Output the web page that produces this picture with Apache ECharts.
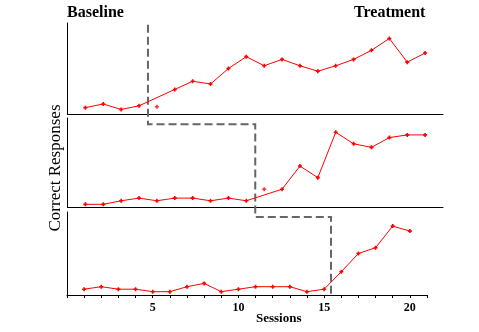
<!DOCTYPE html>
<html>
<head>
<meta charset="utf-8">
<style>
  html, body { margin: 0; padding: 0; background: #fff; }
  #chart { width: 479px; height: 332px; }
</style>
<script src="https://cdn.jsdelivr.net/npm/echarts@6/dist/echarts.min.js"></script>
</head>
<body>
<div id="chart"></div>
<script>
// Sessions 1-20, correct responses per panel (percent of panel scale)
const sessions = [1, 2, 3, 4, 5, 6, 7, 8, 9, 10, 11, 12, 13, 14, 15, 16, 17, 18, 19, 20];
const responsesA = [7, 11, 5, 9, 8, 27, 36, 33, 50, 63, 53, 60, 53, 47, 53, 60, 70, 83, 57, 67];
const responsesB = [3, 3, 7, 10, 7, 10, 10, 7, 10, 7, 20, 20, 46, 33, 84, 71, 67, 78, 81, 81];
const responsesC = [7, 10, 7, 7, 4, 4, 10, 14, 4, 7, 10, 10, 10, 4, 7, 28, 50, 57, 83, 77];
// session plotted on its own, outside the connected line (null = none)
const standAlone = [5, 11, null];
// phase change position in each panel (between sessions)
const phaseChange = [4.5, 10.5, 15.4];
const xTickLabels = [5, 10, 15, 20];

const panels = [responsesA, responsesB, responsesC];
const RED = '#ff0000';
const marker = 'path://M1.5,0H3.5V1.5H5V3.5H3.5V5H1.5V3.5H0V1.5H1.5Z';

const grids = [
  { left: 67.5, top: 23, width: 375.5, height: 91 },
  { left: 67.5, top: 118, width: 375.5, height: 89 },
  { left: 67, top: 212, width: 360, height: 83 }
];

const xAxes = grids.map((g, i) => ({
  type: 'value', gridIndex: i, min: 0, max: 21, interval: 1,
  axisLine: { show: true, onZero: false, lineStyle: { color: '#000', width: 1 } },
  axisTick: { show: i === 2, length: 3, lineStyle: { color: '#000', width: 1 } },
  axisLabel: {
    show: i === 2, margin: 7, color: '#000',
    fontFamily: 'Liberation Serif', fontWeight: 'bold', fontSize: 12,
    formatter: v => (xTickLabels.indexOf(v) >= 0 ? String(v) : '')
  },
  splitLine: { show: false }
}));

const yAxes = grids.map((g, i) => ({
  type: 'value', gridIndex: i, min: 0, max: 100,
  axisLine: { show: true, onZero: false, lineStyle: { color: '#000', width: 1 } },
  axisTick: { show: false }, axisLabel: { show: false }, splitLine: { show: false }
}));

const series = [];
panels.forEach((vals, i) => {
  const pairs = vals.map((v, k) => [sessions[k], v]);
  series.push({
    type: 'line', xAxisIndex: i, yAxisIndex: i,
    data: pairs.filter(p => p[0] !== standAlone[i]),
    symbol: marker, symbolSize: 4, showAllSymbol: true,
    itemStyle: { color: RED }, lineStyle: { color: RED, width: 1 },
    z: 3
  });
  if (standAlone[i] !== null) {
    series.push({
      type: 'scatter', xAxisIndex: i, yAxisIndex: i,
      data: pairs.filter(p => p[0] === standAlone[i]),
      symbol: marker, symbolSize: 4, itemStyle: { color: RED }, z: 3
    });
  }
});

const titleFont = { fontFamily: 'Liberation Serif', fontWeight: 'bold', color: '#000' };

const chart = echarts.init(document.getElementById('chart'), null, { renderer: 'canvas' });
chart.setOption({
  animation: false,
  backgroundColor: '#fff',
  title: [
    { text: 'Baseline', left: 67, top: 5, padding: 0, textStyle: Object.assign({ fontSize: 16 }, titleFont) },
    { text: 'Treatment', left: 354, top: 5, padding: 0, textStyle: Object.assign({ fontSize: 16 }, titleFont) },
    { text: 'Sessions', left: 256, top: 312, padding: 0, textStyle: Object.assign({ fontSize: 13 }, titleFont) }
  ],
  grid: grids,
  xAxis: xAxes,
  yAxis: yAxes,
  series: series
});

// Stepped phase-change line through the three panels
const px = (g, x, y) => chart.convertToPixel({ gridIndex: g }, [x, y]);
const x0 = px(0, phaseChange[0], 0)[0];
const x1 = px(1, phaseChange[1], 0)[0];
const x2 = px(2, phaseChange[2], 0)[0];
const yTop = px(0, 0, 98)[1];
const yStep1 = px(1, 0, 93)[1];
const yStep2 = px(2, 0, 94)[1];
const yEnd = px(2, 0, 0)[1];

chart.setOption({
  graphic: [
    {
      type: 'polyline', z: 2,
      shape: { points: [[x0, yTop], [x0, yStep1], [x1, yStep1], [x1, yStep2], [x2, yStep2], [x2, yEnd]] },
      style: { stroke: '#666', lineWidth: 2, lineDash: [8, 4], fill: null }
    },
    {
      type: 'text', x: 56, y: 168, rotation: Math.PI / 2,
      style: {
        text: 'Correct Responses', fill: '#000',
        font: '17px "Liberation Serif"', textAlign: 'center', textVerticalAlign: 'middle'
      }
    }
  ]
});
</script>
</body>
</html>
